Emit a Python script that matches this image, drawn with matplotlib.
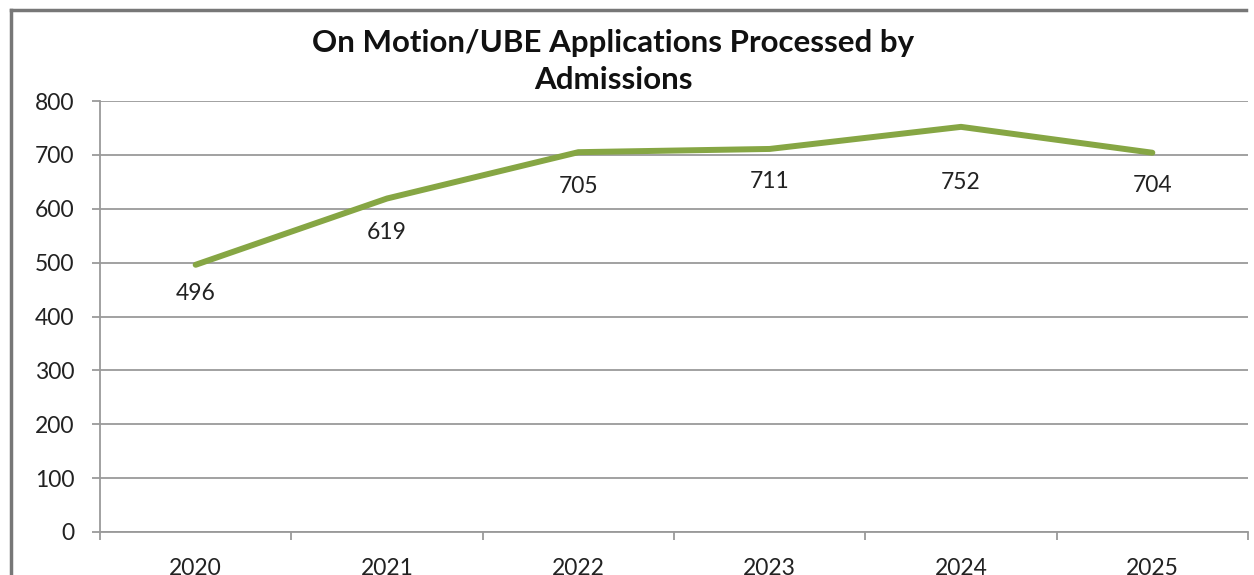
import matplotlib.pyplot as plt
from matplotlib.lines import Line2D

years = ['2020', '2021', '2022', '2023', '2024', '2025']
applications = [496, 619, 705, 711, 752, 704]
y_ticks = [0, 100, 200, 300, 400, 500, 600, 700, 800]

# how far below each point its label sits (pixels)
label_offsets = [29, 34, 34, 33, 56, 33]

plt.rcParams['font.family'] = ['Lato', 'DejaVu Sans']

W, H = 1254, 575
fig = plt.figure(figsize=(W / 100, H / 100), dpi=100)
ax = fig.add_axes([100 / W, 1 - 532 / H, 1148 / W, 431 / H])

x = list(range(len(years)))
ax.plot(x, applications, color='#86A644', linewidth=4.3, solid_capstyle='round', zorder=3)
for xi, v, off in zip(x, applications, label_offsets):
    ax.annotate(str(v), (xi, v), xytext=(0, -off), textcoords='offset pixels',
                ha='center', va='center', fontsize=16.5, color='#222222')

ax.set_xlim(-0.5, len(years) - 0.5)
ax.set_ylim(0, 800)
ax.set_yticks(y_ticks)
ax.set_yticklabels([str(t) for t in y_ticks], fontsize=16.5, color='#222222')
ax.grid(axis='y', color='#9a9a9a', linewidth=1.3)
ax.tick_params(axis='y', length=6, color='#9a9a9a', width=1.3, pad=12.5)

# category boundaries as ticks, labels in the middle
ax.set_xticks([i - 0.5 for i in range(len(years) + 1)])
ax.set_xticklabels([])
ax.set_xticks(x, minor=True)
ax.set_xticklabels(years, minor=True, fontsize=16.5, color='#222222')
ax.tick_params(axis='x', which='major', length=6, color='#9a9a9a', width=1.3)
ax.tick_params(axis='x', which='minor', length=0, pad=19)

for s in ['top', 'right']:
    ax.spines[s].set_visible(False)
for s in ['left', 'bottom']:
    ax.spines[s].set_color('#9a9a9a')
    ax.spines[s].set_linewidth(1.3)

# outer chart frame
fig.add_artist(Line2D([11 / W, 11 / W], [0, 1 - 10 / H], color='#777777', linewidth=2.5))
fig.add_artist(Line2D([11 / W, 1246 / W], [1 - 10 / H, 1 - 10 / H], color='#777777', linewidth=2.5))

fig.text(613 / W, 1 - 52 / H, 'On Motion/UBE Applications Processed by',
         ha='center', va='baseline', fontsize=22.5, fontweight='bold', color='#111111')
fig.text(613 / W, 1 - 89 / H, 'Admissions',
         ha='center', va='baseline', fontsize=22.5, fontweight='bold', color='#111111')

fig.savefig('out.png', dpi=100)
